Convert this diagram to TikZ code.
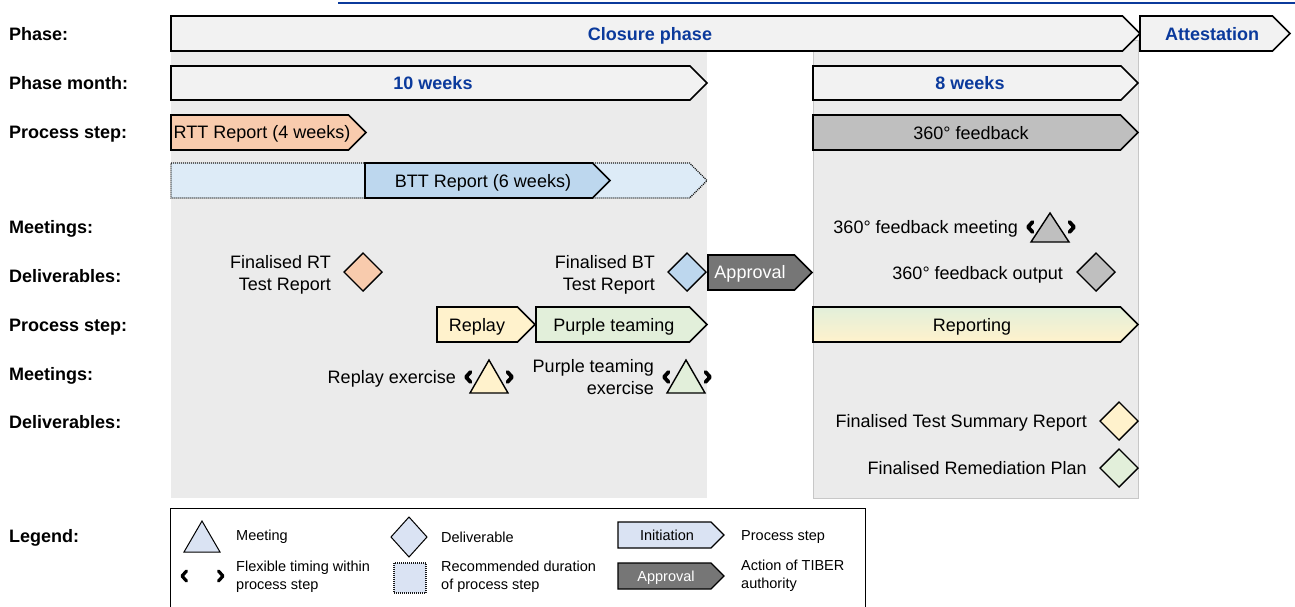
\documentclass[tikz,border=0pt]{standalone}
\usepackage{fontspec}
\setmainfont{Liberation Sans}
\definecolor{tblue}{HTML}{0B3A9C}
\definecolor{panel}{HTML}{EBEBEB}
\definecolor{phasefill}{HTML}{F2F2F2}
\definecolor{peach}{HTML}{F8CBAD}
\definecolor{btlight}{HTML}{DDEBF7}
\definecolor{btdark}{HTML}{BDD7EE}
\definecolor{greyfill}{HTML}{BFBFBF}
\definecolor{approvfill}{HTML}{767676}
\definecolor{yellowfill}{HTML}{FFF2CC}
\definecolor{greenfill}{HTML}{E2EFDA}
\definecolor{legfill}{HTML}{DAE3F3}
\newcommand\chev[5][]{\filldraw[#1] (#2,#3) -- ({#4-0.5*(#5-#3)},#3) -- (#4,{0.5*(#3+#5)}) -- ({#4-0.5*(#5-#3)},#5) -- (#2,#5) -- cycle;}
\newcommand\meet[5][]{\filldraw[#1] (#2,#3) -- ({#2+#5},#4) -- ({#2-#5},#4) -- cycle;}
\newcommand\deliv[5][]{\filldraw[#1] ({#2-#4},#3) -- (#2,{#3-#5}) -- ({#2+#4},#3) -- (#2,{#3+#5}) -- cycle;}
\newcommand\flexl[3][3.8]{\draw[line width=#1pt,line join=round,line cap=round] ({#2+2.5},{#3-5}) -- ({#2-2},#3) -- ({#2+2.5},{#3+5});}
\newcommand\flexr[3][3.8]{\draw[line width=#1pt,line join=round,line cap=round] ({#2-2.5},{#3-5}) -- ({#2+2},#3) -- ({#2-2.5},{#3+5});}
\begin{document}
\begin{tikzpicture}[x=1pt,y=-1pt,
  rowlab/.style={font=\fontsize{18}{20}\selectfont\bfseries, anchor=west, inner sep=0pt, text height=13pt, text depth=0pt},
  bluetxt/.style={font=\fontsize{18}{20}\selectfont\bfseries, text=tblue, inner sep=0pt, text height=13pt, text depth=0pt},
  txt/.style={font=\fontsize{18}{22}\selectfont, inner sep=0pt, text height=13pt, text depth=0pt},
  rtxt/.style={font=\fontsize{18}{22}\selectfont, inner sep=0pt, anchor=east, align=right},
  r1txt/.style={font=\fontsize{18}{22}\selectfont, inner sep=0pt, anchor=east, text height=13pt, text depth=0pt},
  ltxt/.style={font=\fontsize{14.5}{18}\selectfont, inner sep=0pt, anchor=west, align=left},
  l1txt/.style={font=\fontsize{14.5}{18}\selectfont, inner sep=0pt, anchor=west, text height=10.5pt, text depth=0pt},
  boxline/.style={draw=black, line width=1.6pt, line join=miter},
  thinline/.style={draw=black, line width=1pt, line join=miter},
  dotline/.style={draw=black!90, dash pattern=on 1pt off 1pt}]
\useasboundingbox (0,0) rectangle (1295,606);
% top rule
\draw[tblue, line width=2pt] (338,3) -- (1295,3);
% panels
\fill[panel] (171,40) rectangle (707,498);
\filldraw[fill=panel, draw=black!22, line width=0.8pt] (813,40) rectangle (1138,498);
% phase row
\chev[boxline, fill=phasefill]{171}{16}{1140}{51}
\chev[boxline, fill=phasefill]{1140}{16}{1290}{51}
\node[bluetxt] (closure) at (650,34) {Closure phase};
\node[bluetxt] (attest) at (1212,34) {Attestation};
% phase month row
\chev[boxline, fill=phasefill]{171}{66}{707}{100}
\chev[boxline, fill=phasefill]{813}{66}{1138}{100}
\node[bluetxt] (tenw) at (433,83) {10 weeks};
\node[bluetxt] (eightw) at (970,83) {8 weeks};
% process step row 1
\chev[boxline, fill=peach]{171}{115}{366}{150}
\node[txt] (rtt) at (262,132) {RTT Report (4 weeks)};
\chev[boxline, fill=greyfill]{813}{115}{1138}{150}
\node[txt] (fb) at (971,133) {360° feedback};
% BTT
\chev[dotline, line width=1.4pt, fill=btlight]{171}{163}{707}{198}
\chev[boxline, fill=btdark]{365}{163}{610}{198}
\node[txt] (btt) at (483,181) {BTT Report (6 weeks)};
% meetings row 1
\node[r1txt] (fbmeet) at (1018,227) {360° feedback meeting};
\meet[thinline, line width=1.4pt, fill=greyfill]{1050}{213}{242}{19}
\flexl{1030}{227}
\flexr{1072}{227}
% deliverables row 1
\node[rtxt] (rtrep) at (331,275) {Finalised RT\\Test Report};
\deliv[thinline, line width=1.4pt, fill=peach]{363}{272}{19}{19}
\node[rtxt] (btrep) at (655,275) {Finalised BT\\Test Report};
\deliv[thinline, line width=1.4pt, fill=btdark]{687}{272}{19}{19}
\chev[boxline, fill=approvfill]{708}{255}{812}{290}
\node[txt, text=white] (approval) at (750,272) {Approval};
\node[r1txt] (fbout) at (1063,273) {360° feedback output};
\deliv[thinline, line width=1.4pt, fill=greyfill]{1096}{272}{19}{19}
% process step row 2
\chev[boxline, fill=yellowfill]{437}{307}{535}{342}
\node[txt] (replay) at (477,325) {Replay};
\chev[boxline, fill=greenfill]{536}{307}{707}{342}
\node[txt] (purple) at (614,325) {Purple teaming};
\chev[boxline, top color=greenfill, bottom color=yellowfill, middle color=greenfill!50!yellowfill]{813}{307}{1138}{342}
\node[txt] (reporting) at (972,325) {Reporting};
% meetings row 2
\node[r1txt] (repex) at (456,377) {Replay exercise};
\meet[thinline, line width=1.4pt, fill=yellowfill]{489}{360}{393}{19}
\flexl{468}{377}
\flexr{510}{377}
\node[rtxt] (purex) at (654,377) {Purple teaming\\exercise};
\meet[thinline, line width=1.4pt, fill=greenfill]{686}{360}{393}{19}
\flexl{666}{377}
\flexr{708}{377}
% deliverables row 2
\node[r1txt] (tsr) at (1087,421) {Finalised Test Summary Report};
\deliv[thinline, line width=1.4pt, fill=yellowfill]{1119}{421}{19}{19}
\node[r1txt] (rem) at (1087,468) {Finalised Remediation Plan};
\deliv[thinline, line width=1.4pt, fill=greenfill]{1119}{468}{19}{19}
% row labels
\node[rowlab] (l1) at (9,34) {Phase:};
\node[rowlab] (l2) at (9,83) {Phase month:};
\node[rowlab] (l3) at (9,132) {Process step:};
\node[rowlab] (l4) at (9,227) {Meetings:};
\node[rowlab] (l5) at (9,276) {Deliverables:};
\node[rowlab] (l6) at (9,325) {Process step:};
\node[rowlab] (l7) at (9,374) {Meetings:};
\node[rowlab] (l8) at (9,422) {Deliverables:};
\node[rowlab] (l9) at (9,536) {Legend:};
% legend
\filldraw[fill=white, draw=black, line width=1pt] (170,612) -- (170,508) -- (865,508) -- (865,612);
\meet[thinline, fill=legfill]{202}{521}{552}{18}
\node[l1txt] (lmeet) at (236,535) {Meeting};
\deliv[thinline, fill=legfill]{409}{537}{18}{20}
\node[l1txt] (ldeliv) at (441,537) {Deliverable};
\chev[thinline, line width=1.2pt, fill=legfill]{618}{522}{724}{548}
\node[font=\fontsize{14.5}{18}\selectfont, inner sep=0pt, text height=10.5pt, text depth=0pt] (linit) at (667,535) {Initiation};
\node[l1txt] (lstep) at (741,535) {Process step};
\flexl[3.2]{184}{576}
\flexr[3.2]{221}{576}
\node[ltxt] (lflex) at (236,577) {Flexible timing within\\process step};
\filldraw[fill=legfill, dotline, line width=1.1pt] (394,563) rectangle (426,593);
\node[ltxt] (lrec) at (441,577) {Recommended duration\\of process step};
\chev[thinline, line width=1.2pt, fill=approvfill]{618}{563}{724}{589}
\node[font=\fontsize{14.5}{18}\selectfont, inner sep=0pt, text=white, text height=10.5pt, text depth=0pt] (lappr) at (666,576) {Approval};
\node[ltxt] (lact) at (741,576) {Action of TIBER\\authority};
\end{tikzpicture}
\end{document}
